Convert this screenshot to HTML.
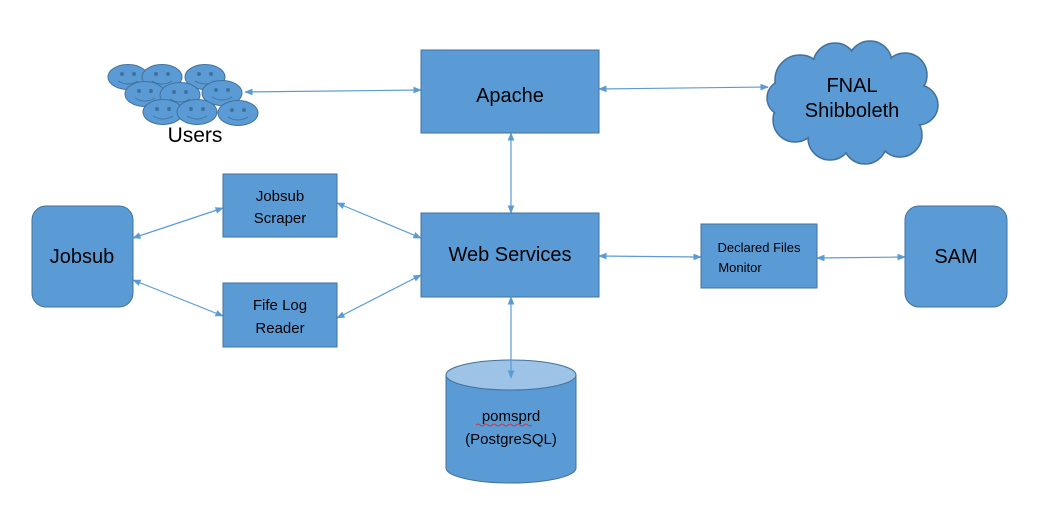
<!DOCTYPE html>
<html><head><meta charset="utf-8"><style>
html,body{margin:0;padding:0;background:#fff;}
svg{display:block;}
text{font-family:"Liberation Sans",sans-serif;fill:#000;}
</style></head><body>
<svg width="1051" height="507" viewBox="0 0 1051 507" xmlns="http://www.w3.org/2000/svg">
<defs>
<marker id="a" viewBox="0 0 10 10" refX="9" refY="5" markerWidth="7" markerHeight="7" orient="auto-start-reverse">
<path d="M0,1 L10,5 L0,9 z" fill="#5b9bd5"/></marker>
</defs>
<g stroke="#5b9bd5" stroke-width="1.2" fill="none" marker-start="url(#a)" marker-end="url(#a)">
<line x1="245" y1="92" x2="421" y2="90"/>
<line x1="599" y1="89" x2="768" y2="87"/>
<line x1="511" y1="133" x2="511" y2="213"/>
<line x1="133" y1="238" x2="223" y2="208"/>
<line x1="133" y1="280" x2="223" y2="316"/>
<line x1="337" y1="203" x2="421" y2="238"/>
<line x1="337" y1="318" x2="421" y2="275"/>
<line x1="599" y1="256" x2="701" y2="257"/>
<line x1="817" y1="258" x2="905" y2="257"/>
</g>
<g fill="#5b9bd5" stroke="#41719c" stroke-width="1">
<rect x="421" y="50" width="178" height="83"/>
<rect x="421" y="213" width="178" height="84"/>
<rect x="223" y="174" width="114" height="63"/>
<rect x="223" y="283" width="114" height="64"/>
<rect x="32" y="206" width="101" height="101" rx="14"/>
<rect x="701" y="224" width="116" height="64"/>
<rect x="905" y="206" width="102" height="101" rx="14"/>
<path d="M446,375 L446,468 A65,15 0 0 0 576,468 L576,375"/>
<ellipse cx="511" cy="375" rx="65" ry="15" fill="#9dc3e6"/>
</g>
<line x1="511" y1="297" x2="511" y2="378" stroke="#5b9bd5" stroke-width="1.2" marker-start="url(#a)" marker-end="url(#a)"/>
<g fill="#5b9bd5" stroke="#41719c" stroke-width="1.5">
<circle cx="800" cy="80" r="25"/><circle cx="835" cy="65" r="22"/><circle cx="870" cy="63" r="22"/><circle cx="905" cy="75" r="22"/>
<circle cx="918" cy="105" r="20"/><circle cx="900" cy="135" r="22"/><circle cx="865" cy="142" r="22"/><circle cx="830" cy="138" r="22"/>
<circle cx="795" cy="120" r="22"/><circle cx="785" cy="98" r="18"/>
</g>
<g fill="#5b9bd5">
<ellipse cx="852" cy="102" rx="68" ry="45"/>
<circle cx="800" cy="80" r="24"/><circle cx="835" cy="65" r="21"/><circle cx="870" cy="63" r="21"/><circle cx="905" cy="75" r="21"/>
<circle cx="918" cy="105" r="19"/><circle cx="900" cy="135" r="21"/><circle cx="865" cy="142" r="21"/><circle cx="830" cy="138" r="21"/>
<circle cx="795" cy="120" r="21"/><circle cx="785" cy="98" r="17"/>
</g>
<g fill="#5b9bd5" stroke="#41719c" stroke-width="1">
<g transform="translate(128,77)"><ellipse rx="20" ry="12.5"/><circle cx="-6" cy="-3" r="1.5" fill="#41719c"/><circle cx="6" cy="-3" r="1.5" fill="#41719c"/><path d="M-10,4 Q0,10 10,4" fill="none"/></g>
<g transform="translate(162,77)"><ellipse rx="20" ry="12.5"/><circle cx="-6" cy="-3" r="1.5" fill="#41719c"/><circle cx="6" cy="-3" r="1.5" fill="#41719c"/><path d="M-10,4 Q0,10 10,4" fill="none"/></g>
<g transform="translate(205,77)"><ellipse rx="20" ry="12.5"/><circle cx="-6" cy="-3" r="1.5" fill="#41719c"/><circle cx="6" cy="-3" r="1.5" fill="#41719c"/><path d="M-10,4 Q0,10 10,4" fill="none"/></g>
<g transform="translate(145,94)"><ellipse rx="20" ry="12.5"/><circle cx="-6" cy="-3" r="1.5" fill="#41719c"/><circle cx="6" cy="-3" r="1.5" fill="#41719c"/><path d="M-10,4 Q0,10 10,4" fill="none"/></g>
<g transform="translate(180,95)"><ellipse rx="20" ry="12.5"/><circle cx="-6" cy="-3" r="1.5" fill="#41719c"/><circle cx="6" cy="-3" r="1.5" fill="#41719c"/><path d="M-10,4 Q0,10 10,4" fill="none"/></g>
<g transform="translate(222,93)"><ellipse rx="20" ry="12.5"/><circle cx="-6" cy="-3" r="1.5" fill="#41719c"/><circle cx="6" cy="-3" r="1.5" fill="#41719c"/><path d="M-10,4 Q0,10 10,4" fill="none"/></g>
<g transform="translate(163,112)"><ellipse rx="20" ry="12.5"/><circle cx="-6" cy="-3" r="1.5" fill="#41719c"/><circle cx="6" cy="-3" r="1.5" fill="#41719c"/><path d="M-10,4 Q0,10 10,4" fill="none"/></g>
<g transform="translate(197,112)"><ellipse rx="20" ry="12.5"/><circle cx="-6" cy="-3" r="1.5" fill="#41719c"/><circle cx="6" cy="-3" r="1.5" fill="#41719c"/><path d="M-10,4 Q0,10 10,4" fill="none"/></g>
<g transform="translate(238,113)"><ellipse rx="20" ry="12.5"/><circle cx="-6" cy="-3" r="1.5" fill="#41719c"/><circle cx="6" cy="-3" r="1.5" fill="#41719c"/><path d="M-10,4 Q0,10 10,4" fill="none"/></g>
</g>
<g text-anchor="middle">
<text x="195" y="142" font-size="21">Users</text>
<text x="510" y="102" font-size="20">Apache</text>
<text x="510" y="261" font-size="20">Web Services</text>
<text x="280" y="201" font-size="15">Jobsub</text>
<text x="280" y="223" font-size="15">Scraper</text>
<text x="280" y="310" font-size="15">Fife Log</text>
<text x="280" y="333" font-size="15">Reader</text>
<text x="82" y="263" font-size="20">Jobsub</text>
<text x="759" y="252" font-size="13">Declared Files</text>
<text x="740" y="272" font-size="13">Monitor</text>
<text x="956" y="263" font-size="20">SAM</text>
<text x="852" y="92" font-size="20">FNAL</text>
<text x="852" y="117" font-size="20">Shibboleth</text>
<text x="511" y="421" font-size="15">pomsprd</text>
<text x="511" y="444" font-size="15">(PostgreSQL)</text>
</g>
<path d="M476,425 q2,-2 4,0 q2,2 4,0 q2,-2 4,0 q2,2 4,0 q2,-2 4,0 q2,2 4,0 q2,-2 4,0 q2,2 4,0 q2,-2 4,0 q2,2 4,0 q2,-2 4,0 q2,2 4,0 q2,-2 4,0 q2,2 4,0" stroke="#e02020" stroke-width="0.8" fill="none"/>
</svg>
</body></html>
